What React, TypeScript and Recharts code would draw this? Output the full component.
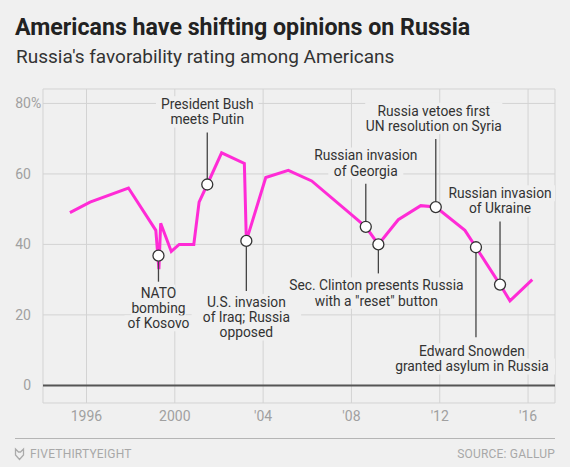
import React from 'react';
import { ComposedChart, Line, Scatter, XAxis, YAxis, CartesianGrid, ReferenceLine } from 'recharts';

// ---- data ----
const pollYears = [1995.25, 1996.16, 1997.9, 1999.14, 1999.28, 1999.36, 1999.84, 2000.2, 2000.86, 2001.1, 2001.47, 2002.12, 2003.15, 2003.24, 2004.12, 2005.14, 2006.2, 2008.08, 2008.65, 2009.22, 2010.12, 2011.14, 2011.82, 2013.14, 2013.64, 2014.73, 2015.18, 2016.19];
const favorability = [49, 52, 56, 44, 33, 46, 38, 40, 40, 52, 57, 66, 63, 41, 59, 61, 58, 48, 45, 40, 47, 51, 50.6, 44, 39.2, 28.6, 24, 30];

const eventYears = [1999.26, 2001.47, 2003.24, 2008.65, 2009.22, 2011.82, 2013.64, 2014.73];
const eventValues = [36.8, 57, 41, 45, 40, 50.6, 39.2, 28.6];
const eventLabels = [
  ['NATO', 'bombing', 'of Kosovo'],
  ['President Bush', 'meets Putin'],
  ['U.S. invasion', 'of Iraq; Russia', 'opposed'],
  ['Russian invasion', 'of Georgia'],
  ['Sec. Clinton presents Russia', 'with a "reset" button'],
  ['Russia vetoes first', 'UN resolution on Syria'],
  ['Edward Snowden', 'granted asylum in Russia'],
  ['Russian invasion', 'of Ukraine'],
];

const tickYears = [1996, 2000, 2004, 2008, 2012, 2016];
const tickLabels = ['1996', '2000', "'04", "'08", "'12", "'16"];
const yTicks = [0, 20, 40, 60, 80];

// ---- layout / style (not data) ----
// dir: 1 = label below, -1 = label above; leader length in px; gap to first line; dx shift
const eventLayout = [
  { dir: 1, leader: 26, gap: 11, dx: 0 },
  { dir: -1, leader: 52, gap: 13, dx: 0 },
  { dir: 1, leader: 50, gap: 11, dx: 0 },
  { dir: -1, leader: 43, gap: 13, dx: 0 },
  { dir: 1, leader: 29, gap: 12, dx: -2 },
  { dir: -1, leader: 68, gap: 13, dx: -2 },
  { dir: 1, leader: 90, gap: 14, dx: -4 },
  { dir: -1, leader: 63, gap: 13, dx: 0 },
];

const BG = '#f0f0f0';
const PINK = '#ff2bd6';
const GRID = '#d3d3d3';
const TICK_FONT = "'Liberation Sans Narrow', 'Roboto', sans-serif";
const TEXT_FONT = "'Roboto', 'Liberation Sans', sans-serif";

const lineData = pollYears.map((year, i) => ({ year, value: favorability[i] }));
const eventData = eventYears.map((year, i) => ({ year, value: eventValues[i], idx: i }));

const XTick = (props: any) => {
  const { x, payload } = props;
  const i = tickYears.indexOf(payload.value);
  return (
    <text x={x} y={421} textAnchor="middle" fill="#a0a0a0" fontSize={14} fontFamily={TICK_FONT}>
      {tickLabels[i]}
    </text>
  );
};

const YTick = (props: any) => {
  const { y, payload } = props;
  return (
    <g>
      <text x={31} y={y} dy={5} textAnchor="end" fill="#a0a0a0" fontSize={14} fontFamily={TICK_FONT}>
        {payload.value}
      </text>
      {payload.value === 80 && (
        <text x={31} y={y} dy={5} fill="#a0a0a0" fontSize={14} fontFamily={TICK_FONT}>%</text>
      )}
    </g>
  );
};

const EventShape = (props: any) => {
  const { cx, cy, payload } = props;
  const i = payload.idx;
  const lay = eventLayout[i];
  const lines = eventLabels[i];
  const r = 5.5;
  const start = cy + lay.dir * r;
  const end = cy + lay.dir * lay.leader;
  const spacing = 15.3;
  const tx = cx + lay.dx;
  return (
    <g>
      <line x1={cx} y1={start} x2={cx} y2={end} stroke="#444" strokeWidth={1.3} />
      {lines.map((t, k) => {
        const ly = end + lay.dir * (lay.gap + (lay.dir === 1 ? k : lines.length - 1 - k) * spacing);
        const w = t.length * 6.9 + 6;
        return (
          <g key={k}>
            <rect x={tx - w / 2} y={ly - 8} width={w} height={16} fill={BG} />
            <text x={tx} y={ly} dy={4.9} textAnchor="middle" fill="#333" fontSize={13.8} fontFamily={TEXT_FONT}>
              {t}
            </text>
          </g>
        );
      })}
      <circle cx={cx} cy={cy} r={r} fill="#fff" stroke="#333" strokeWidth={1.3} />
    </g>
  );
};

export default function App() {
  return (
    <div style={{ position: 'absolute', left: 0, top: 0, width: 570, height: 467, background: BG, overflow: 'hidden' }}>
      <svg width={570} height={467} style={{ position: 'absolute', left: 0, top: 0 }}>
        <text x={15} y={35} fontSize={23.2} fontWeight={700} fill="#222" fontFamily={TEXT_FONT}>
          Americans have shifting opinions on Russia
        </text>
        <text x={16} y={63} fontSize={19} fill="#333" fontFamily={TEXT_FONT}>
          Russia's favorability rating among Americans
        </text>
        <line x1={15} x2={555} y1={438.5} y2={438.5} stroke="#b5b5b5" strokeWidth={1} />
        <path d="M15.5 449 L18.5 452 L20.5 452 L23.5 449 L23.5 455 L19.5 459.5 L15.5 455 Z" fill="none" stroke="#aaa" strokeWidth={1.3} />
        <text x={30} y={458} fontSize={12} fill="#a8a8a8" fontFamily={TICK_FONT} letterSpacing={0.2}>
          FIVETHIRTYEIGHT
        </text>
        <text x={555} y={458} textAnchor="end" fontSize={12} fill="#a8a8a8" fontFamily={TICK_FONT} letterSpacing={0.2}>
          SOURCE: GALLUP
        </text>
      </svg>
      <div style={{ position: 'absolute', left: 0, top: 0 }}>
        <ComposedChart width={570} height={467} data={lineData} margin={{ top: 89, right: 15, bottom: 34, left: 8 }}>
          <CartesianGrid stroke={GRID} strokeWidth={1} />
          <XAxis
            type="number"
            dataKey="year"
            domain={[1994.03, 2017.22]}
            ticks={tickYears}
            tick={<XTick />}
            axisLine={false}
            tickLine={false}
            height={30}
            allowDataOverflow
          />
          <YAxis
            type="number"
            domain={[-5, 84.1]}
            ticks={yTicks}
            tick={<YTick />}
            axisLine={false}
            tickLine={false}
            width={35}
            allowDataOverflow
          />
          <ReferenceLine y={0} stroke="#555" strokeWidth={2} />
          <Line
            type="linear"
            dataKey="value"
            stroke={PINK}
            strokeWidth={3}
            dot={false}
            activeDot={false}
            isAnimationActive={false}
            strokeLinejoin="miter"
          />
          <Scatter data={eventData} dataKey="value" shape={<EventShape />} isAnimationActive={false} />
        </ComposedChart>
      </div>
    </div>
  );
}
